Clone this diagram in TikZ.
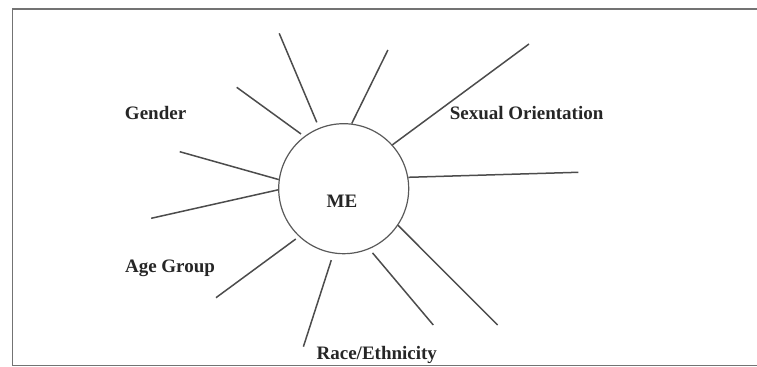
\documentclass[tikz,border=0pt]{standalone}
\usepackage{fontspec}
\setmainfont{Liberation Serif}

\tikzset{
  spoke/.style={draw=black!70, line width=0.75pt},
  label/.style={font=\bfseries\fontsize{9.5}{11}\selectfont, text=black!85},
}

\begin{document}
\begin{tikzpicture}[x=0.5pt,y=-0.5pt]

  \useasboundingbox (0,0) rectangle (757,367);

  % Frame
  \draw[black!55, line width=0.8pt] (757,9) -- (12.5,9) -- (12.5,365.5) -- (757,365.5);

  % Circle
  \node[circle, draw=black!65, line width=0.6pt, minimum size=65pt, inner sep=0pt] (me) at (343.7,188.7) {};
  \node[label] (metext) at (342,201) {ME};

  % Outer ends
  \coordinate (s1) at (279.2,33.3);
  \coordinate (s2) at (387.9,50);
  \coordinate (s3) at (529,44);
  \coordinate (s4) at (578.3,172.3);
  \coordinate (s5) at (497.6,325);
  \coordinate (s6) at (433.3,325);
  \coordinate (s7) at (303.4,346.7);
  \coordinate (s8) at (216,297.7);
  \coordinate (s9) at (151.2,218.3);
  \coordinate (s10) at (179.7,151.7);
  \coordinate (s11) at (236.7,87.3);

  % Spokes
  \draw[spoke, shorten <=3pt] (me.112.5) -- (s1);
  \draw[spoke] (me.83) -- (s2);
  \draw[spoke] (me.42.6) -- (s3);
  \draw[spoke] (me.10.5) -- (s4);
  \draw[spoke] (me.-34.7) -- (s5);
  \draw[spoke, shorten <=2.5pt] (me.-67) -- (s6);
  \draw[spoke, shorten <=3.5pt] (me.-99.4) -- (s7);
  \draw[spoke, shorten <=2pt] (me.-133.8) -- (s8);
  \draw[spoke] (me.181.2) -- (s9);
  \draw[spoke] (me.172.3) -- (s10);
  \draw[spoke, shorten <=2pt] (me.127.3) -- (s11);

  % Labels
  \node[label] (gender) at (155.6,113.3) {Gender};
  \node[label] (sexual) at (526.6,113.3) {Sexual Orientation};
  \node[label] (age) at (170,268.3) {Age Group};
  \node[label] (race) at (376.8,355) {Race/Ethnicity};

\end{tikzpicture}
\end{document}
